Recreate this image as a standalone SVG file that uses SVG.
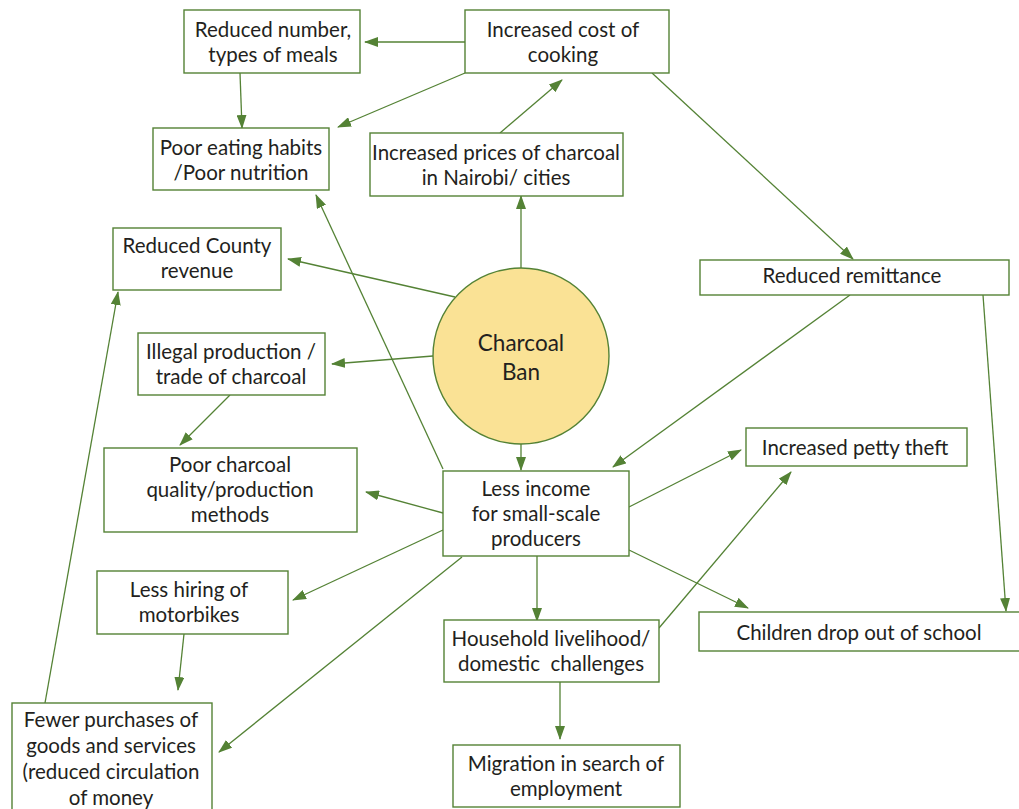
<svg xmlns="http://www.w3.org/2000/svg" width="1019" height="809" viewBox="0 0 1019 809">
<defs>
<style>
.n rect{fill:#fff;stroke:#548235;stroke-width:1.4}
.n circle{fill:#fae295;stroke:#548235;stroke-width:1.4}
text{font-family:Lato,"Noto Sans",sans-serif;font-size:20.5px;fill:#231f20;text-anchor:middle}
.big{font-size:22.5px}
.c line{stroke:#548235;stroke-width:1.3;marker-end:url(#ah)}
</style>
<marker id="ah" viewBox="0 0 14 10" refX="13" refY="5" markerWidth="14" markerHeight="10" markerUnits="userSpaceOnUse" orient="auto">
<path d="M0,0 L14,5 L0,10 z" fill="#548235"/>
</marker>
</defs>
<rect width="1019" height="809" fill="#fff"/>
<g class="c">
<line x1="465" y1="42" x2="365" y2="42"/>
<line x1="240" y1="73" x2="242" y2="128"/>
<line x1="465" y1="73" x2="338" y2="127"/>
<line x1="500" y1="133" x2="562" y2="80"/>
<line x1="521" y1="269" x2="521" y2="196"/>
<line x1="652" y1="73" x2="853" y2="259"/>
<line x1="455" y1="297" x2="288" y2="259"/>
<line x1="433" y1="356" x2="332" y2="364"/>
<line x1="230" y1="395" x2="180" y2="445"/>
<line x1="521" y1="444" x2="521" y2="470"/>
<line x1="443" y1="469" x2="316" y2="195"/>
<line x1="850" y1="295" x2="613" y2="467"/>
<line x1="983" y1="295" x2="1006" y2="611"/>
<line x1="443" y1="513" x2="366" y2="492"/>
<line x1="629" y1="507" x2="741" y2="450"/>
<line x1="443" y1="530" x2="293" y2="600"/>
<line x1="462" y1="557" x2="219" y2="752"/>
<line x1="537" y1="556" x2="537" y2="621"/>
<line x1="629" y1="550" x2="748" y2="608"/>
<line x1="659" y1="628" x2="791" y2="472"/>
<line x1="560" y1="682" x2="560" y2="739"/>
<line x1="184" y1="634" x2="178" y2="690"/>
<line x1="45" y1="703" x2="118" y2="292"/>
</g>
<g id="n-meals" class="n"><rect x="184" y="10" width="176" height="63"/><text x="273" y="37">Reduced number,</text><text x="273" y="62">types of meals</text></g>
<g id="n-cost" class="n"><rect x="465" y="10" width="204" height="63"/><text x="563" y="37">Increased cost of</text><text x="563" y="62">cooking</text></g>
<g id="n-eating" class="n"><rect x="153" y="128" width="176" height="62"/><text x="241" y="155">Poor eating habits</text><text x="241" y="180">/Poor nutrition</text></g>
<g id="n-prices" class="n"><rect x="370" y="133" width="253" height="63"/><text x="496" y="160">Increased prices of charcoal</text><text x="496" y="185">in Nairobi/ cities</text></g>
<g id="n-county" class="n"><rect x="113" y="228" width="168" height="62"/><text x="197" y="253">Reduced County</text><text x="197" y="278">revenue</text></g>
<g id="n-remit" class="n"><rect x="700" y="260" width="309" height="35"/><text x="852" y="283">Reduced remittance</text></g>
<g id="n-ban" class="n"><circle cx="521" cy="356" r="88"/><text class="big" x="521" y="351">Charcoal</text><text class="big" x="521" y="380">Ban</text></g>
<g id="n-illegal" class="n"><rect x="138" y="333" width="187" height="62"/><text x="231" y="359">Illegal production /</text><text x="231" y="384">trade of charcoal</text></g>
<g id="n-quality" class="n"><rect x="104" y="448" width="253" height="84"/><text x="230" y="472">Poor charcoal</text><text x="230" y="497">quality/production</text><text x="230" y="522">methods</text></g>
<g id="n-income" class="n"><rect x="443" y="471" width="186" height="85"/><text x="536" y="496">Less income</text><text x="536" y="521">for small-scale</text><text x="536" y="546">producers</text></g>
<g id="n-theft" class="n"><rect x="746" y="428" width="221" height="38"/><text x="855" y="455">Increased petty theft</text></g>
<g id="n-moto" class="n"><rect x="97" y="571" width="191" height="63"/><text x="189" y="597">Less hiring of</text><text x="189" y="622">motorbikes</text></g>
<g id="n-house" class="n"><rect x="444" y="620" width="215" height="62"/><text x="551" y="646">Household livelihood/</text><text x="551" y="671" style="white-space:pre">domestic  challenges</text></g>
<g id="n-school" class="n"><rect x="699" y="612" width="322" height="39"/><text x="859" y="640">Children drop out of school</text></g>
<g id="n-purch" class="n"><rect x="12" y="703" width="200" height="110"/><text x="111" y="727">Fewer purchases of</text><text x="111" y="753">goods and services</text><text x="111" y="779">(reduced circulation</text><text x="111" y="805">of money</text></g>
<g id="n-migr" class="n"><rect x="453" y="745" width="227" height="62"/><text x="566" y="771">Migration in search of</text><text x="566" y="796">employment</text></g>
</svg>
